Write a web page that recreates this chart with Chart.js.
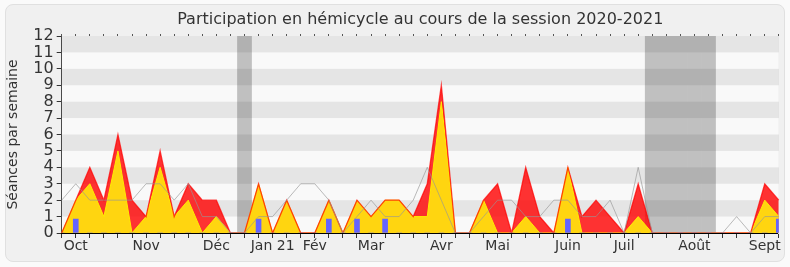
<!DOCTYPE html>
<html>
<head>
<meta charset="utf-8">
<script src="https://cdn.jsdelivr.net/npm/chart.js@4.4.0/dist/chart.umd.min.js"></script>
<style>
  html, body { margin: 0; padding: 0; background: #fafafa; }
  #wrap { position: relative; width: 790px; height: 267px; }
  #frame { position: absolute; left: 5px; top: 4px; width: 778px; height: 256px;
           background: #f0f0f0; border: 1px solid #e0e0e0; border-radius: 8px; }
  #chart { position: absolute; left: 0; top: 0; }
</style>
</head>
<body>
<div id="wrap">
  <div id="frame"></div>
  <canvas id="chart" width="790" height="267"></canvas>
</div>
<script>
// 52 semaines, de fin septembre 2020 à septembre 2021
const monthNames = ['Oct', 'Nov', 'Déc', 'Jan 21', 'Fév', 'Mar', 'Avr', 'Mai', 'Juin', 'Juil', 'Août', 'Sept'];
const monthWeeks = [1, 6, 11, 15, 18, 22, 27, 31, 36, 40, 45, 50];

// séances avec présence (rouge)
const presences = [0, 2, 4, 2, 6, 2, 1, 5, 1, 3, 2, 2, 0, 0, 3, 0, 2, 0, 0, 2, 0, 2, 1, 2, 2, 1,
                   3, 9, 0, 0, 2, 3, 0, 4, 1, 0, 4, 1, 2, 1, 0, 3, 0, 0, 0, 0, 0, 0, 0, 0, 3, 2];
// séances avec intervention (jaune)
const interventions = [0, 2, 3, 1, 5, 0, 1, 4, 1, 2, 0, 1, 0, 0, 3, 0, 2, 0, 0, 2, 0, 2, 1, 2, 2, 1,
                       1, 8, 0, 0, 2, 0, 0, 1, 0, 0, 4, 0, 0, 0, 0, 1, 0, 0, 0, 0, 0, 0, 0, 0, 2, 1];
// médiane des députés (gris)
const mediane = [2, 3, 2, 2, 2, 2, 3, 3, 2, 3, 1, 1, 0, 0, 1, 1, 2, 3, 3, 2, 0, 1, 2, 1, 1, 2,
                 4, 2, 0, 0, 1, 2, 2, 1, 1, 2, 2, 1, 1, 2, 0, 4, 0, 0, 0, 0, 0, 0, 1, 0, 1, 1];
// questions orales (bleu)
const questions = [0, 0.85, 0, 0, 0, 0, 0, 0, 0, 0, 0, 0, 0, 0, 0.85, 0, 0, 0, 0, 0.85, 0, 0.85, 0, 0.85, 0, 0,
                   0, 0, 0, 0, 0, 0, 0, 0, 0, 0, 0.85, 0, 0, 0, 0, 0, 0, 0, 0, 0, 0, 0, 0, 0, 0, 0.85];
// semaines de vacances parlementaires
const vacances = [13, 42, 43, 44, 45, 46];
const yMax = 12;

const weeks = presences.map((v, i) => {
  const m = monthWeeks.indexOf(i);
  return m >= 0 ? monthNames[m] : '';
});
const vacancesData = presences.map((v, i) => vacances.includes(i) ? yMax : null);

Chart.defaults.font.family = "'DejaVu Sans', Verdana, sans-serif";
Chart.defaults.color = '#333';

const fond = {
  id: 'fond',
  beforeDatasetsDraw(chart) {
    const { ctx, chartArea: a } = chart;
    ctx.save();
    ctx.fillStyle = '#f9f9f9';
    ctx.fillRect(a.left, a.top, a.right - a.left, a.bottom - a.top);
    ctx.restore();
  },
  afterDatasetDraw(chart, args) {
    if (args.index !== 0) return;
    // bandes grises alternées, par-dessus les vacances
    const { ctx, chartArea: a, scales: { y } } = chart;
    ctx.save();
    ctx.fillStyle = 'rgba(0,0,0,0.08)';
    for (let v = 1; v < yMax; v += 2) {
      const top = y.getPixelForValue(v + 1);
      const bot = y.getPixelForValue(v);
      ctx.fillRect(a.left, top, a.right - a.left, bot - top);
    }
    ctx.restore();
  }
};

new Chart(document.getElementById('chart'), {
  type: 'line',
  data: {
    labels: weeks,
    datasets: [
      {
        type: 'bar',
        label: 'Vacances',
        data: vacancesData,
        backgroundColor: '#c0c0c0',
        barPercentage: 1,
        categoryPercentage: 1,
        grouped: false,
        order: 10
      },
      {
        label: 'Présences',
        data: presences,
        backgroundColor: 'rgba(255,0,0,0.8)',
        borderWidth: 0,
        fill: 'origin',
        pointRadius: 0,
        tension: 0,
        order: 6
      },
      {
        label: 'Interventions',
        data: interventions,
        backgroundColor: '#ffd510',
        borderColor: '#ffec00',
        borderWidth: 1,
        fill: 'origin',
        pointRadius: 0,
        tension: 0,
        order: 5
      },
      {
        label: 'Présences (ligne)',
        data: presences,
        borderColor: 'rgba(255,0,0,0.7)',
        borderWidth: 1.3,
        fill: false,
        pointRadius: 0,
        tension: 0,
        order: 4
      },
      {
        type: 'bar',
        label: 'Questions',
        data: questions,
        backgroundColor: '#6464ff',
        barThickness: 5,
        grouped: false,
        order: 3
      },
      {
        label: 'Médiane',
        data: mediane,
        borderColor: 'rgba(150,150,150,0.65)',
        borderWidth: 1,
        fill: false,
        pointRadius: 0,
        tension: 0,
        order: 2
      }
    ]
  },
  options: {
    responsive: false,
    animation: false,
    devicePixelRatio: 1,
    layout: { padding: { left: 0, right: 11.2, top: 0, bottom: 6 } },
    scales: {
      x: {
        type: 'category',
        offset: false,
        grid: { offset: false, drawOnChartArea: false, tickLength: 5, color: '#333' },
        border: { color: '#000' },
        ticks: { autoSkip: false, maxRotation: 0, padding: 0, font: { size: 14 }, color: '#333' },
        afterFit(scale) { scale.height = 28; }
      },
      xTop: {
        type: 'category',
        position: 'top',
        offset: false,
        grid: { offset: false, drawOnChartArea: false, tickLength: 2, color: '#555' },
        border: { display: false },
        ticks: { display: false },
        afterFit(scale) { scale.height = 3.8; }
      },
      y: {
        min: 0,
        max: yMax,
        ticks: { stepSize: 1, autoSkip: false, padding: 3, font: { size: 16 }, color: '#333' },
        grid: { drawOnChartArea: false, tickLength: 5, color: '#333' },
        border: { color: '#000' },
        title: { display: true, text: 'Séances par semaine', font: { size: 14 }, color: '#333', padding: { top: 5 } },
        afterFit(scale) { scale.width = 61.7; }
      },
      yRight: {
        position: 'right',
        min: 0,
        max: yMax,
        grid: { drawOnChartArea: false, drawTicks: false },
        border: { color: '#d8d8d8' },
        ticks: { display: false },
        afterFit(scale) { scale.width = 0; }
      }
    },
    plugins: {
      legend: { display: false },
      tooltip: { enabled: false },
      title: {
        display: true,
        fullSize: false,
        text: 'Participation en hémicycle au cours de la session 2020-2021',
        font: { size: 16, weight: 'normal' },
        color: '#333',
        padding: { top: 10, bottom: 3 }
      }
    }
  },
  plugins: [fond]
});
</script>
</body>
</html>
